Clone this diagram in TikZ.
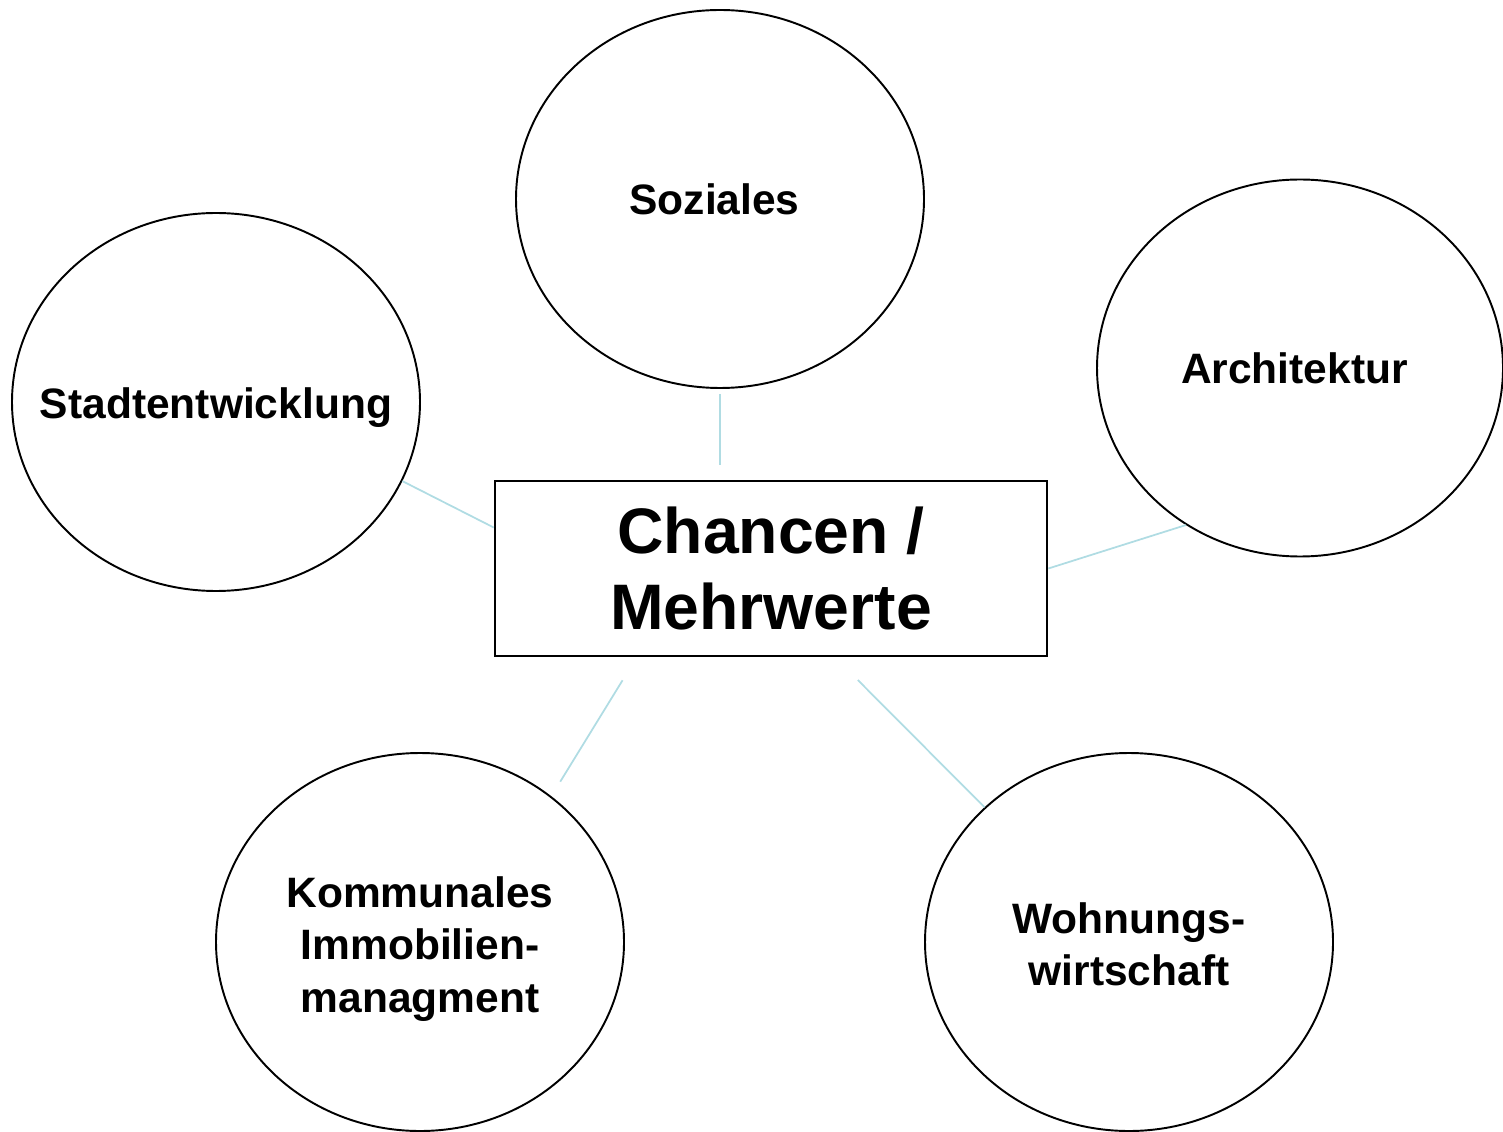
\documentclass[tikz,border=0pt]{standalone}
\usepackage{fontspec}
\setmainfont{Liberation Sans}
\usetikzlibrary{shapes,positioning,calc}

\definecolor{linkblue}{HTML}{B0DCE3}

\tikzset{
  field/.style={draw, ellipse, line width=1.1pt, minimum width=8.16cm, minimum height=7.56cm, inner sep=0pt},
  fieldtext/.style={align=center, inner sep=0pt, font=\fontsize{24.2}{29.8}\selectfont\bfseries},
  link/.style={draw=linkblue, line width=1pt}
}

\begin{document}
\begin{tikzpicture}
			\useasboundingbox (0,0) rectangle (30.06,22.62);
			% Mitte
			\node[draw, line width=1.5pt, minimum width=11.04cm, minimum height=3.5cm, align=center,
			  font=\fontsize{36.6}{42.7}\selectfont\bfseries] (box) at (15.42,11.25) {Chancen /\\Mehrwerte};
			
			% Felder
			\node[field] (soz) at (14.4,18.64) {};
			\node[fieldtext] (soztext) at ([xshift=-0.11cm]soz.center) {Soziales};
			\node[field] (stadt) at (4.32,14.58) {};
			\node[fieldtext] (stadttext) at ([yshift=-0.12cm]stadt.center) {Stadtentwicklung};
			\node[field, minimum width=8.12cm, minimum height=7.54cm] (arch) at (26.0,15.26) {};
			\node[fieldtext] (archtext) at ([xshift=-0.11cm]arch.center) {Architektur};
			\node[field] (komm) at (8.4,3.78) {};
			\node[fieldtext] (kommtext) at ([yshift=-0.14cm]komm.center) {Kommunales\\Immobilien-\\managment};
			\node[field] (wohn) at (22.58,3.78) {};
			\node[fieldtext] (wohntext) at ([yshift=-0.04cm]wohn.center) {Wohnungs-\\wirtschaft};
			
			% Verbindungen
			\draw[link, shorten <=0.1cm, shorten >=0.3cm] (soz.south) -- (soz.south |- box.north);
			\draw[link] (stadt.-23) -- ($(box.west)+(0,0.82)$);
			\draw[link] (arch.-126) -- (box.east);
			\draw[link, shorten <=0.54cm, shorten >=0.34cm] ($(box.south west)+(2.86,0)$) -- (komm.48);
			\draw[link, shorten <=0.64cm] ($(box.south west)+(6.83,0)$) -- (wohn.137);
		\end{tikzpicture}
\end{document}
